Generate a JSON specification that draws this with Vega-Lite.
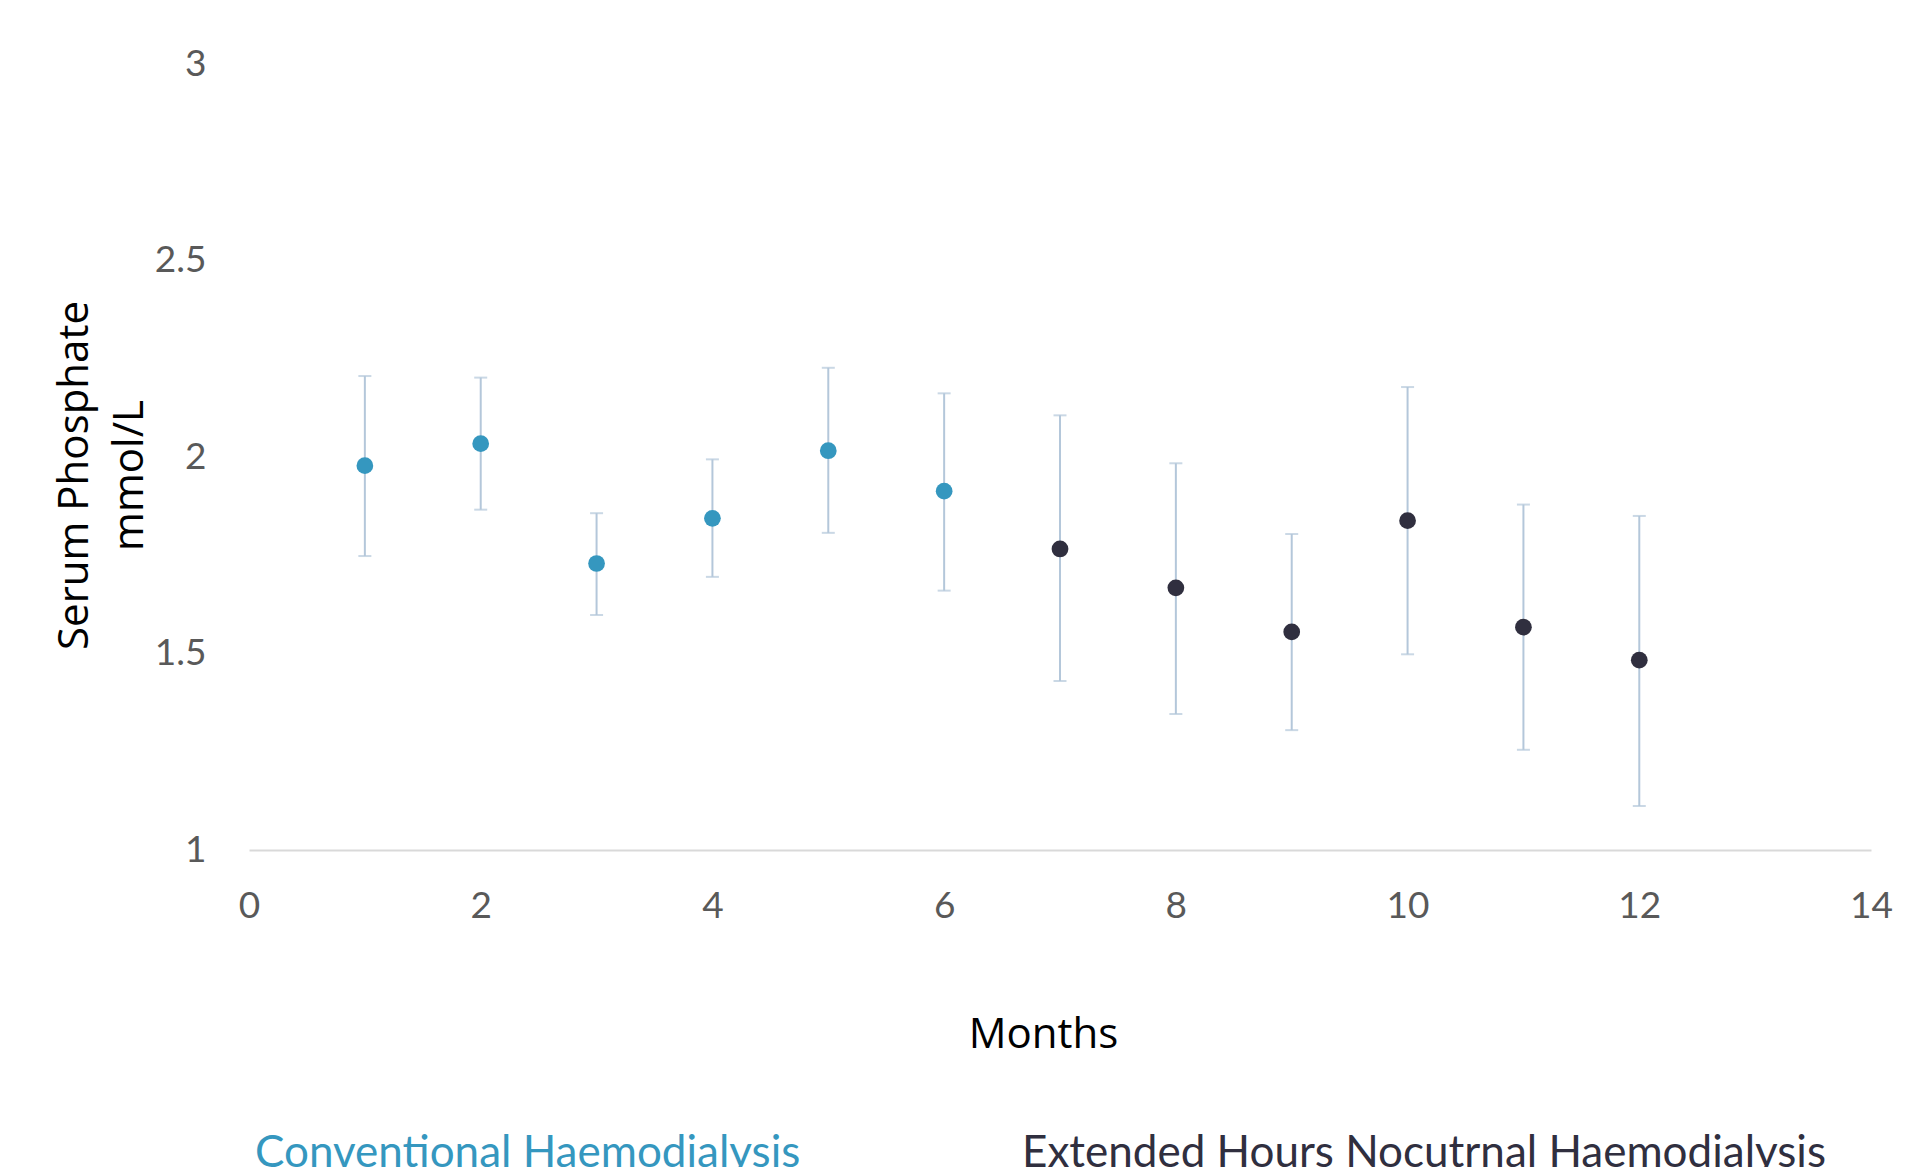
{
  "$schema": "https://vega.github.io/schema/vega-lite/v6.json",
  "width": 1622,
  "height": 786,
  "autosize": "none",
  "padding": {"left": 249, "top": 64, "right": 50, "bottom": 317},
  "background": "white",
  "config": {
    "view": {"stroke": null},
    "axis": {"grid": false, "ticks": false, "tickSize": 0}
  },
  "data": {
    "values": [
      {"month": 1, "value": 1.978, "lo": 1.748, "hi": 2.206, "group": "Conventional Haemodialysis"},
      {"month": 2, "value": 2.034, "lo": 1.866, "hi": 2.202, "group": "Conventional Haemodialysis"},
      {"month": 3, "value": 1.729, "lo": 1.598, "hi": 1.857, "group": "Conventional Haemodialysis"},
      {"month": 4, "value": 1.844, "lo": 1.695, "hi": 1.994, "group": "Conventional Haemodialysis"},
      {"month": 5, "value": 2.016, "lo": 1.807, "hi": 2.227, "group": "Conventional Haemodialysis"},
      {"month": 6, "value": 1.913, "lo": 1.660, "hi": 2.162, "group": "Conventional Haemodialysis"},
      {"month": 7, "value": 1.766, "lo": 1.430, "hi": 2.106, "group": "Extended Hours Nocutrnal Haemodialysis"},
      {"month": 8, "value": 1.667, "lo": 1.346, "hi": 1.984, "group": "Extended Hours Nocutrnal Haemodialysis"},
      {"month": 9, "value": 1.555, "lo": 1.305, "hi": 1.804, "group": "Extended Hours Nocutrnal Haemodialysis"},
      {"month": 10, "value": 1.838, "lo": 1.498, "hi": 2.178, "group": "Extended Hours Nocutrnal Haemodialysis"},
      {"month": 11, "value": 1.567, "lo": 1.255, "hi": 1.879, "group": "Extended Hours Nocutrnal Haemodialysis"},
      {"month": 12, "value": 1.483, "lo": 1.112, "hi": 1.850, "group": "Extended Hours Nocutrnal Haemodialysis"}
    ]
  },
  "encoding": {
    "x": {
      "field": "month",
      "type": "quantitative",
      "scale": {"domain": [0, 14], "nice": false, "zero": false},
      "axis": {
        "values": [0, 2, 4, 6, 8, 10, 12, 14],
        "title": "Months",
        "domain": true,
        "domainColor": "#D9D9D9",
        "domainWidth": 2,
        "labelFlush": false,
        "labelFont": "Lato",
        "labelFontSize": 37,
        "labelColor": "#595959",
        "labelPadding": 38,
        "titleFont": "Open Sans",
        "titleFontSize": 42,
        "titleFontWeight": "normal",
        "titleColor": "#000000",
        "titlePadding": 90,
        "titleX": 794
      }
    }
  },
  "layer": [
    {
      "mark": {
        "type": "errorbar",
        "color": "#B4C7DA",
        "thickness": 2,
        "ticks": {"size": 13, "thickness": 2, "color": "#B4C7DA"},
        "rule": {"strokeWidth": 2, "color": "#B4C7DA"}
      },
      "encoding": {
        "y": {
          "field": "lo",
          "type": "quantitative",
          "scale": {"domain": [1, 3], "nice": false, "zero": false},
          "axis": {
            "values": [1, 1.5, 2, 2.5, 3],
            "format": "~g",
            "domain": false,
            "title": ["Serum Phosphate", "mmol/L"],
            "labelFont": "Lato",
            "labelFontSize": 37,
            "labelColor": "#595959",
            "labelPadding": 43,
            "titleFont": "Open Sans",
            "titleFontSize": 42,
            "titleFontWeight": "normal",
            "titleColor": "#000000",
            "titleLineHeight": 55,
            "titlePadding": 3,
            "titleY": 411
          }
        },
        "y2": {"field": "hi"}
      }
    },
    {
      "mark": {"type": "circle", "size": 280, "opacity": 1},
      "encoding": {
        "y": {"field": "value", "type": "quantitative"},
        "color": {
          "field": "group",
          "type": "nominal",
          "scale": {
            "domain": ["Conventional Haemodialysis", "Extended Hours Nocutrnal Haemodialysis"],
            "range": ["#3597BF", "#302F3F"]
          },
          "legend": {
            "title": null,
            "orient": "none",
            "direction": "horizontal",
            "legendX": -38,
            "legendY": 1068,
            "symbolSize": 0,
            "symbolOpacity": 0,
            "symbolStrokeWidth": 0,
            "labelOffset": 0,
            "columnPadding": 177,
            "labelFont": "Lato",
            "labelFontSize": 44,
            "labelLimit": 0,
            "encode": {
              "labels": {
                "update": {
                  "fill": {"signal": "datum.label === 'Conventional Haemodialysis' ? '#3597BF' : '#302F3F'"}
                }
              }
            }
          }
        }
      }
    }
  ]
}
